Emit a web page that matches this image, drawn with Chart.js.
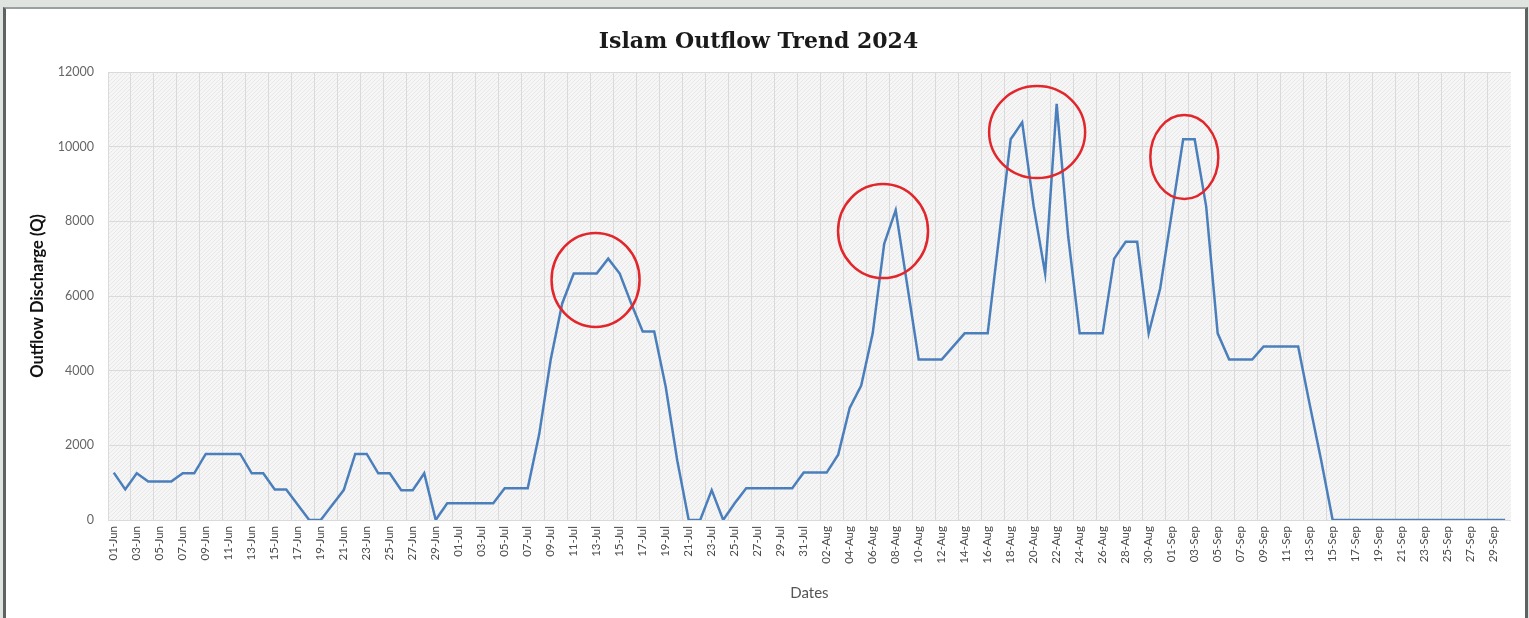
<!DOCTYPE html>
<html>
<head>
<meta charset="utf-8">
<script src="https://cdn.jsdelivr.net/npm/chart.js@4.4.1/dist/chart.umd.min.js"></script>
<style>
  html, body { margin: 0; padding: 0; background: #dfe4e1; overflow: hidden; }
  #frame {
    position: absolute; left: 3px; top: 7px; width: 1519px; height: 620px;
    background: #ffffff;
    border-left: 3px solid #5d6360; border-right: 3px solid #5d6360; border-top: 2px solid #9aa09d;
  }
  #wrap { position: absolute; left: 0; top: 0; width: 1519px; height: 609px; }
</style>
</head>
<body>
<div id="frame"><div id="wrap"><canvas id="outflow"></canvas></div></div>
<script>
// months covered by the chart (day labels are built from these)
const MONTHS = ['Jun', 'Jul', 'Aug', 'Sep'];
const MONTH_DAYS = [30, 31, 31, 30];

// outflow discharge (Q), one value per day, 01-Jun .. 30-Sep
const outflowJun = [
  1270, 820, 1250, 1030, 1030, 1030, 1250, 1250, 1770, 1770,
  1770, 1770, 1250, 1250, 820, 820, 410, 0, 0, 400,
  800, 1770, 1770, 1250, 1250, 800, 800, 1250, 0, 450,
];
const outflowJul = [
  450, 450, 450, 450, 850, 850, 850, 2300, 4300, 5800,
  6600, 6600, 6600, 7000, 6600, 5800, 5050, 5050, 3570, 1600,
  0, 0, 800, 0, 450, 850, 850, 850, 850, 850,
  1270,
];
const outflowAug = [
  1270, 1270, 1750, 3000, 3600, 5000, 7400, 8300, 6300, 4300,
  4300, 4300, 4650, 5000, 5000, 5000, 7600, 10200, 10650, 8400,
  6600, 11150, 7600, 5000, 5000, 5000, 7000, 7450, 7450, 5000,
  6200,
];
const outflowSep = [
  8200, 10200, 10200, 8400, 5000, 4300, 4300, 4300, 4650, 4650,
  4650, 4650, 3100, 1600, 0, 0, 0, 0, 0, 0,
  0, 0, 0, 0, 0, 0, 0, 0, 0, 0,
];

// highlighted peaks (red circles): day index and discharge at the centre
const peakDay = [41.9, 66.9, 80.3, 93.1];
const peakQ = [6430, 7740, 10390, 9720];

const Y_TICKS = [0, 2000, 4000, 6000, 8000, 10000, 12000];

const LINE_COLOR = '#4b7fbc';
const GRID_COLOR = '#dadada';
const TICK_COLOR = '#4a4a4a';
const CIRCLE_COLOR = '#e1262c';
const CIRCLE_RADII = [[44, 47], [45, 47], [48, 46], [34, 42]];

const labels = [];
MONTHS.forEach((m, mi) => {
  for (let d = 1; d <= MONTH_DAYS[mi]; d++) {
    labels.push(String(d).padStart(2, '0') + '-' + m);
  }
});
const outflow = [...outflowJun, ...outflowJul, ...outflowAug, ...outflowSep];

const makeHatch = () => {
  const c = document.createElement('canvas');
  c.width = 4;
  c.height = 4;
  const g = c.getContext('2d');
  g.fillStyle = '#f6f6f6';
  g.fillRect(0, 0, 4, 4);
  g.fillStyle = '#e8e8e8';
  for (let i = 0; i < 4; i++) g.fillRect(i, 3 - i, 1, 1);
  return g.createPattern(c, 'repeat');
};

const plotBackground = {
  id: 'plotBackground',
  beforeDraw(chart) {
    const { ctx, chartArea: a } = chart;
    ctx.save();
    ctx.fillStyle = makeHatch();
    ctx.fillRect(a.left, a.top, a.right - a.left, a.bottom - a.top);
    ctx.restore();
  },
};

const peakCircles = {
  id: 'peakCircles',
  afterDatasetsDraw(chart) {
    const { ctx, scales } = chart;
    ctx.save();
    ctx.strokeStyle = CIRCLE_COLOR;
    ctx.lineWidth = 2.5;
    peakDay.forEach((d, i) => {
      const cx = scales.x.getPixelForValue(d);
      const cy = scales.y.getPixelForValue(peakQ[i]);
      ctx.beginPath();
      ctx.ellipse(cx, cy, CIRCLE_RADII[i][0], CIRCLE_RADII[i][1], 0, 0, Math.PI * 2);
      ctx.stroke();
    });
    ctx.restore();
  },
};

const SCALES = {
  x: {
    offset: true,
    afterFit: (scale) => { scale.height = 98; },
    grid: {
      offset: true,
      drawTicks: false,
      color: (c) => (c.index % 2 === 0 ? GRID_COLOR : 'transparent'),
      lineWidth: 1,
    },
    border: { color: GRID_COLOR },
    ticks: {
      autoSkip: false,
      maxRotation: 90,
      minRotation: 90,
      padding: 6,
      color: TICK_COLOR,
      font: { family: 'Lato', size: 11.5 },
      callback: (_, index) => (index % 2 === 0 ? labels[index] : ''),
    },
    title: {
      display: true,
      text: 'Dates',
      color: '#555555',
      font: { family: 'Lato', size: 15 },
      padding: { top: 0, bottom: 16 },
    },
  },
  y: {
    min: 0,
    max: 12000,
    afterFit: (scale) => { scale.width = 102; },
    afterBuildTicks: (scale) => { scale.ticks = Y_TICKS.map((v) => ({ value: v })); },
    grid: { color: GRID_COLOR, drawTicks: false },
    border: { display: false },
    ticks: {
      padding: 14,
      color: '#666666',
      font: { family: 'Lato', size: 12.5 },
      callback: (v) => String(v),
    },
    title: {
      display: true,
      text: 'Outflow Discharge (Q)',
      color: '#111111',
      font: { family: 'Lato', size: 16.5, weight: 'bold' },
      padding: { top: 22, bottom: 0 },
    },
  },
};

const PLUGINS = {
  legend: { display: false },
  tooltip: { enabled: false },
  title: {
    display: true,
    text: 'Islam Outflow Trend 2024',
    color: '#1a1a1a',
    font: { family: 'DejaVu Serif', size: 22, weight: 'bold', lineHeight: 1.2 },
    padding: { top: 20, bottom: 16.6 },
  },
};

new Chart(document.getElementById('outflow'), {
  type: 'line',
  data: {
    labels: labels,
    datasets: [
      {
        data: outflow,
        borderColor: LINE_COLOR,
        borderWidth: 2.5,
        pointRadius: 0,
        tension: 0,
        fill: false,
      },
    ],
  },
  options: {
    responsive: true,
    maintainAspectRatio: false,
    animation: false,
    layout: { padding: { left: 0, right: 14, top: 0, bottom: 0 } },
    scales: SCALES,
    plugins: PLUGINS,
  },
  plugins: [plotBackground, peakCircles],
});
</script>
</body>
</html>
